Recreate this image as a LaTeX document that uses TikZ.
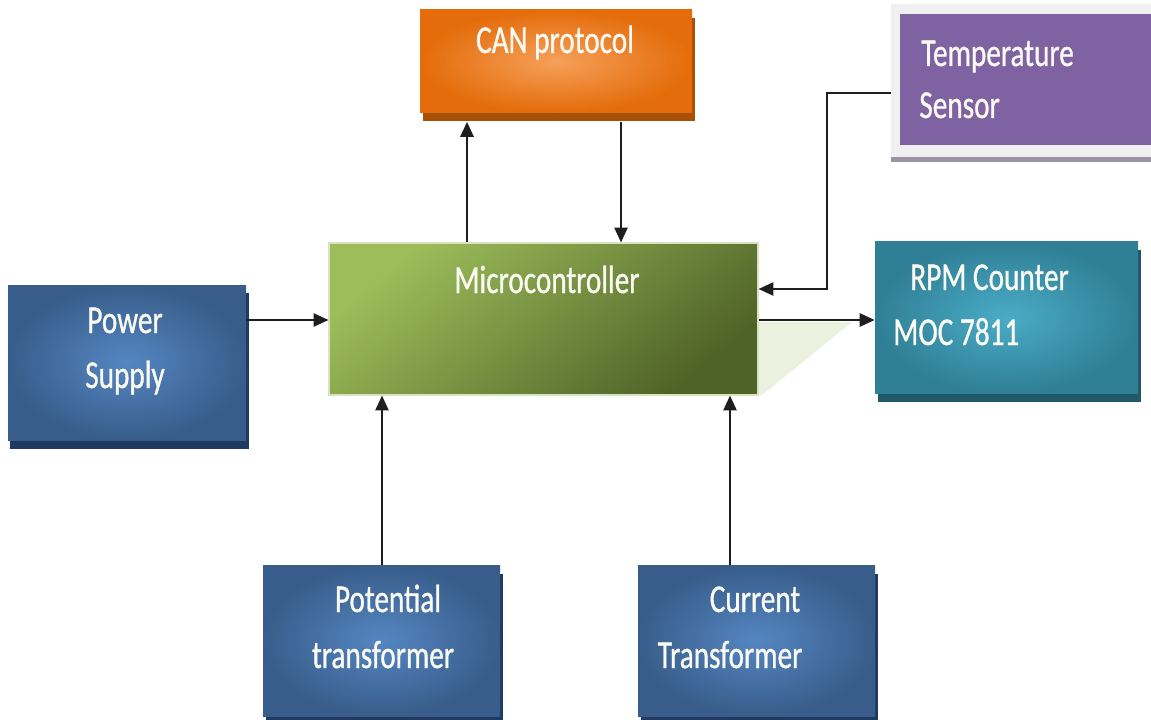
\documentclass[tikz,border=0pt]{standalone}
\usepackage{fontspec}
\setmainfont{Carlito}[FakeStretch=0.74,FakeBold=0.8]
\usetikzlibrary{arrows.meta,shadows,fit}
\definecolor{orOut}{HTML}{E46C0A}
\definecolor{orIn}{HTML}{F6A05A}
\definecolor{orSh}{HTML}{A84F08}
\definecolor{blOut}{HTML}{385D8A}
\definecolor{blIn}{HTML}{5586C2}
\definecolor{blSh}{HTML}{1F3A60}
\definecolor{tlOut}{HTML}{2F7F96}
\definecolor{tlIn}{HTML}{4BACC6}
\definecolor{tlSh}{HTML}{215968}
\definecolor{grTop}{HTML}{9DBD5A}
\definecolor{grBot}{HTML}{4F6328}
\definecolor{grLine}{HTML}{D7E4BD}
\definecolor{grTri}{HTML}{EBF1DE}
\definecolor{purp}{HTML}{7F62A2}
\definecolor{purpFrame}{HTML}{F0F0F0}
\definecolor{purpLine}{HTML}{9A93A6}
\definecolor{txtc}{HTML}{FAFAF2}
\definecolor{linec}{HTML}{1E1E1E}
\tikzset{
  boxbase/.style={inner sep=0pt, draw=none},
  radbox/.style n args={3}{boxbase, inner color=#1, outer color=#2,
     drop shadow={shadow xshift=0.05cm, shadow yshift=-0.17cm, fill=#3, opacity=1}},
  txt/.style={text=txtc, font=\fontsize{22.5}{26}\selectfont, inner sep=0pt},
  arr/.style={draw=linec, line width=1.2pt, -{Triangle[length=8.5pt,width=7.5pt]}},
  conn/.style={draw=linec, line width=1.2pt}
}
\begin{document}
\begin{tikzpicture}[x=0.02cm,y=-0.02cm]
\useasboundingbox (0,0) rectangle (1151,719);
\clip (0,0) rectangle (1151,719);

% decorative light triangle
\fill[grTri] (758,322) -- (852,322) -- (762,395) -- (758,395) -- cycle;

% boxes
\node[radbox={orIn}{orOut}{orSh}, fit={(420,10) (692,113)}] (can) {};
\node[boxbase, fill=purpFrame, fit={(891,4) (1165,157)}] (tempframe) {};
\fill[purpLine] (891,157) rectangle (1165,162);
\node[boxbase, fill=purp, fit={(900,14) (1165,145)}] (temp) {};
\node[boxbase, top color=grTop, bottom color=grBot, shading angle=40,
      draw=grLine, line width=0.6pt, fit={(329,243) (758,395)}] (micro) {};
\node[radbox={tlIn}{tlOut}{tlSh}, fit={(875,242) (1138,393)}] (rpm) {};
\node[radbox={blIn}{blOut}{blSh}, fit={(8,285) (246,440)}] (power) {};
\node[radbox={blIn}{blOut}{blSh}, fit={(263,565) (500,716)}] (pot) {};
\node[radbox={blIn}{blOut}{blSh}, fit={(638,565) (875,716)}] (cur) {};

% texts
\node[txt, anchor=base] (canT) at (555,53) {CAN protocol};
\node[txt, anchor=base west] (tempT1) at (921,66) {Temperature};
\node[txt, anchor=base west] (tempT2) at (919,118) {Sensor};
\node[txt, anchor=base] (microT) at (547,293) {Microcontroller};
\node[txt, anchor=base west] (rpmT1) at (910,290) {RPM Counter};
\node[txt, anchor=base west] (rpmT2) at (893,345) {MOC 7811};
\node[txt, anchor=base] (powT1) at (125,333) {Power};
\node[txt, anchor=base] (powT2) at (125,388) {Supply};
\node[txt, anchor=base] (potT1) at (388,612) {Potential};
\node[txt, anchor=base] (potT2) at (383,668) {transformer};
\node[txt, anchor=base] (curT1) at (755,612) {Current};
\node[txt, anchor=base] (curT2) at (730,668) {Transformer};

% connector helpers
\coordinate (cx1) at (467,0);
\coordinate (cx2) at (621,0);
\coordinate (ty) at (827,93);
\coordinate (ty2) at (827,289);
\coordinate (hy) at (0,320);
\coordinate (px) at (382,0);
\coordinate (qx) at (730,0);

% connectors
\draw[arr] (cx1 |- micro.north) -- ([yshift=-0.17cm]cx1 |- can.south);
\draw[arr] ([yshift=-0.17cm]cx2 |- can.south) -- (cx2 |- micro.north);
\draw[arr] (ty -| tempframe.west) -- (ty) -- (ty2) -- (ty2 -| micro.east);
\draw[arr] (hy -| power.east) -- (hy -| micro.west);
\draw[arr] (hy -| micro.east) -- (hy -| rpm.west);
\draw[arr] (px |- pot.north) -- (px |- micro.south);
\draw[arr] (qx |- cur.north) -- (qx |- micro.south);
\end{tikzpicture}
\end{document}
